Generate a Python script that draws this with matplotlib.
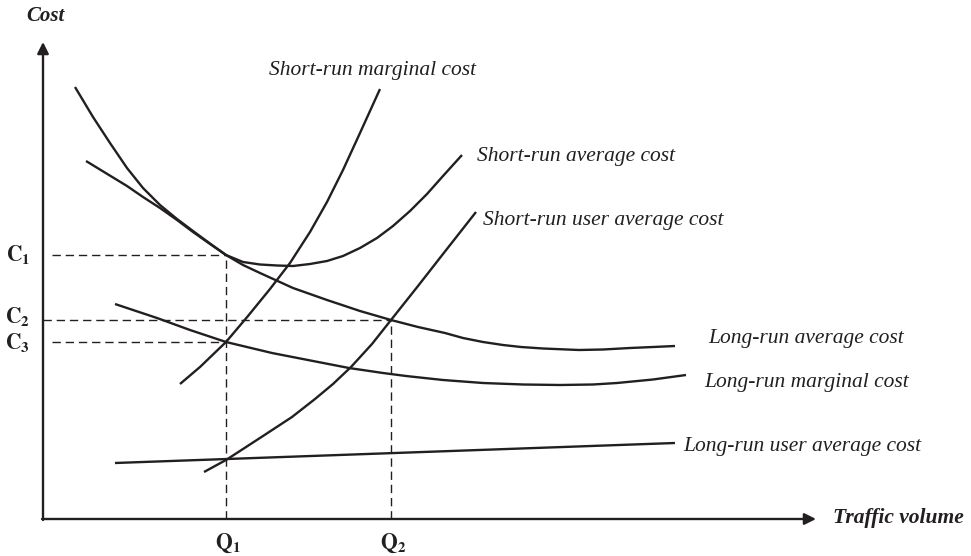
"""Short-run and long-run cost curves against traffic volume"""

import matplotlib.pyplot as plt

plt.rcParams["font.family"] = ["Liberation Serif", "DejaVu Serif"]
plt.rcParams["mathtext.fontset"] = "stix"

INK = "#231f20"

# Curves: volume (x) and cost (y), origin at the axes corner
sr_avg_vol = [32, 50, 67, 84, 100, 117, 134, 150, 167, 183, 200, 217,
              234, 250, 267, 284, 300, 317, 334, 350, 367, 384, 400, 419]
sr_avg_cost = [432, 402, 376, 351, 331, 314, 300, 288, 275.5, 264, 257, 254.5,
               253.5, 253, 255, 258, 263, 271, 281, 293, 308, 325, 343, 364]

sr_marg_vol = [137, 157, 183, 205, 227, 247, 267, 284, 300, 317, 337]
sr_marg_cost = [135, 152, 177, 203, 230, 256, 287, 317, 349, 386, 430]

sr_user_vol = [161, 183, 200, 220, 249, 272, 290, 308, 329, 348, 375, 400, 433]
sr_user_cost = [47, 59, 70, 83, 102, 120, 135, 152, 175, 199, 233, 265, 307]

lr_avg_vol = [43, 84, 100, 117, 134, 150, 167, 183, 200, 217, 250, 284, 317,
              348, 375, 402, 420, 440, 460, 478, 500, 536, 560, 587, 610, 632]
lr_avg_cost = [358, 333, 322, 311, 299, 287, 275, 264, 254, 246, 231, 219, 208,
               199, 192, 186, 181, 177, 174, 172, 170.5, 169, 169.5, 171, 172, 173]

lr_marg_vol = [72, 114, 147, 183, 229, 270, 306, 340, 363, 400, 440, 480,
               517, 550, 574, 610, 643]
lr_marg_cost = [215, 201, 189, 177, 166, 158, 151, 146, 143, 139, 136, 134.5,
                134, 134.5, 136, 139.5, 144]

lr_user_vol = [72, 632]
lr_user_cost = [56, 76]

# Reference levels
q_labels = ["Q", "Q"]
q_subs = ["1", "2"]
q_values = [183, 348]
c_labels = ["C", "C", "C"]
c_subs = ["1", "2", "3"]
c_values = [264, 199, 177]
c_reach = [183, 348, 183]

fig = plt.figure(figsize=(9.71, 5.56), dpi=100)
ax = fig.add_axes([0, 0, 1, 1])
ax.set_xlim(-43, 928)
ax.set_ylim(-37, 519)
ax.axis("off")

curve_style = {"color": INK, "lw": 1.7, "solid_capstyle": "butt",
               "solid_joinstyle": "round"}
for vol, cost in [
    (sr_avg_vol, sr_avg_cost),
    (sr_marg_vol, sr_marg_cost),
    (sr_user_vol, sr_user_cost),
    (lr_avg_vol, lr_avg_cost),
    (lr_marg_vol, lr_marg_cost),
    (lr_user_vol, lr_user_cost),
]:
    ax.plot(vol, cost, **curve_style)

# Dashed guide lines
dash_style = {"color": INK, "lw": 1.0, "ls": (0, (6, 3.5))}
for i, (level, reach) in enumerate(zip(c_values, c_reach)):
    start = 0 if i == 1 else 9
    ax.plot([start, reach], [level, level], **dash_style)
for q, level in zip(q_values, c_values[:2]):
    ax.plot([q, q], [0, level], **dash_style)

# Axes with arrow heads
arrow = {"arrowstyle": "-|>", "lw": 1.7, "color": INK, "mutation_scale": 17,
         "shrinkA": 0, "shrinkB": 0}
ax.annotate("", xy=(0, 477), xytext=(0, -1), arrowprops=arrow)
ax.annotate("", xy=(773, 0), xytext=(-1, 0), arrowprops=arrow)

ax.text(2, 503, "Cost", fontsize=15, fontweight="bold", fontstyle="italic",
        ha="center", va="center", color=INK)
ax.text(790, 1, "Traffic volume", fontsize=15.5, fontweight="bold",
        fontstyle="italic", ha="left", va="center", color=INK)

for lab, sub, pos in zip(c_labels, c_subs, [264, 203, 177]):
    ax.text(-13, pos, r"$\mathbf{" + lab + r"}_{\mathbf{" + sub + r"}}$",
            fontsize=15.5, ha="right", va="center", color=INK)
for lab, sub, q in zip(q_labels, q_subs, q_values):
    ax.text(q + 2, -24, r"$\mathbf{" + lab + r"}_{\mathbf{" + sub + r"}}$",
            fontsize=15.5, ha="center", va="center", color=INK)

label_kw = {"fontsize": 15.5, "fontstyle": "italic", "ha": "left",
            "va": "center", "color": INK}
ax.text(226, 448, "Short-run marginal cost", **label_kw)
ax.text(434, 362, "Short-run average cost", **label_kw)
ax.text(440, 299, "Short-run user average cost", **label_kw)
ax.text(665, 181, "Long-run average cost", **label_kw)
ax.text(661, 137, "Long-run marginal cost", **label_kw)
ax.text(640, 72, "Long-run user average cost", **label_kw)

fig.savefig("out.png", dpi=100)
